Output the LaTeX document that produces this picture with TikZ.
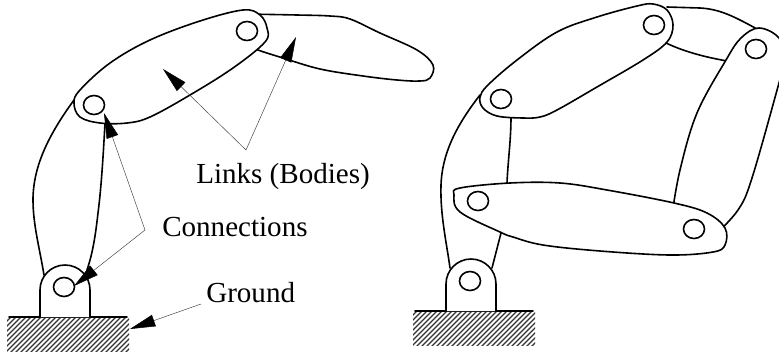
\documentclass[tikz,border=0pt]{standalone}
\usepackage{fontspec}
\setmainfont{Liberation Serif}
\usetikzlibrary{arrows.meta,calc}
\newcommand{\pivothole}[1]{%
  \draw[link] (#1) ellipse (10.5 and 9.5);
}
\newcommand{\groundbase}[1]{%
  \begin{scope}[shift={(#1)}]
    \begin{scope}
      \clip (-58,1) rectangle (64,34);
      \foreach \i in {0,...,33}{
        \draw[hatch] ({-100+\i*5},36) -- ++(38,-38);
      }
    \end{scope}
    \draw[link] (-56,0) -- (62,0);
    \draw[link] (-25,0) -- (-25,-27) arc[start angle=180,delta angle=180,radius=25] -- (25,0);
    \pivothole{-1,-30}
  \end{scope}
}

\begin{document}
\begin{tikzpicture}[x=0.75pt,y=-0.75pt, line cap=round, line join=round, >=Latex]
\tikzset{link/.style={line width=1.2pt, fill=white}, bar/.style={line width=1.2pt}, hatch/.style={line width=0.85pt, black!80},
  pointer/.style={-{Triangle[length=19pt,width=9pt,black]}, line width=0.35pt, black!75}, callout/.style={font=\fontsize{21.8}{24}\selectfont, inner sep=0pt, anchor=base west}}
\useasboundingbox (0,0) rectangle (779,351);

% left mechanism
\draw[bar] (74,100) .. controls (50,133) and (33,165) .. (33,200) .. controls (33,225) and (40,250) .. (44,275);
\draw[bar] (105,123) .. controls (103,160) and (101,190) .. (98,213) .. controls (95,240) and (92,255) .. (87,270);
\groundbase{65,317}
\draw[link] plot[smooth, tension=0.6] coordinates {(245,14) (297,15) (330,16) (350,19) (380,33) (417,50) (433,65) (430,78) (420,81) (397,80) (363,76) (320,69) (283,58) (258,50) (245,44)};
\draw[link] plot[smooth cycle, tension=0.6] coordinates {(74,103) (80,90) (110,63) (150,40) (200,21) (243,10) (260,15) (267,28) (265,42) (233,68) (190,95) (150,117) (127,123) (100,123) (80,117)};
\pivothole{247,31}
\pivothole{94,105}

% right mechanism
\draw[bar] (480,95) .. controls (455,127) and (442,155) .. (441,185) .. controls (440,215) and (447,245) .. (450,268);
\draw[bar] (511,117) .. controls (511,140) and (508,160) .. (507,183);
\draw[bar] (501,233) -- (492,268);
\draw[bar] (667,7) -- (700,8) .. controls (720,9) and (735,17) .. (757,29);
\draw[bar] (666,43) .. controls (685,52) and (705,57) .. (727,61);
\groundbase{471,311}
\draw[link] plot[smooth, tension=0.6] coordinates {(672,215) (680,170) (697,113) (726,60) (741,38) (759,28) (779,38) (785,60) (779,83) (752,178) (738,210) (715,235)};
\draw[link] plot[smooth cycle, tension=0.6] coordinates {(480,97) (488,85) (517,60) (557,32) (597,17) (637,6) (653,4) (667,10) (673,25) (667,42) (643,60) (597,87) (557,110) (540,117) (523,118) (497,116) (483,108)};
\draw[link] plot[smooth cycle, tension=0.6] coordinates {(454,195) (460,188) (510,183) (560,183) (607,190) (674,203) (707,213) (725,228) (725,245) (713,252) (670,255) (600,251) (543,245) (513,237) (500,232) (460,212)};
\pivothole{654,25}
\pivothole{756,49}
\pivothole{501,99}
\pivothole{478,201}
\pivothole{694,229}

% labels
\node[callout] (links) at (196,183) {Links (Bodies)};
\node[callout] (connections) at (162,236) {Connections};
\node[callout] (ground) at (206,302) {Ground};

% pointers
\coordinate (linksfork) at (246,150);
\coordinate (connfork) at (145,230);
\coordinate (groundend) at (201,304);
\draw[pointer] (linksfork) -- (163,69);
\draw[pointer] (linksfork) -- (296,37);
\draw[pointer] (connfork) -- (104,113);
\draw[pointer] (connfork) -- (74,286);
\draw[pointer] (groundend) -- (130,329);
\end{tikzpicture}
\end{document}
